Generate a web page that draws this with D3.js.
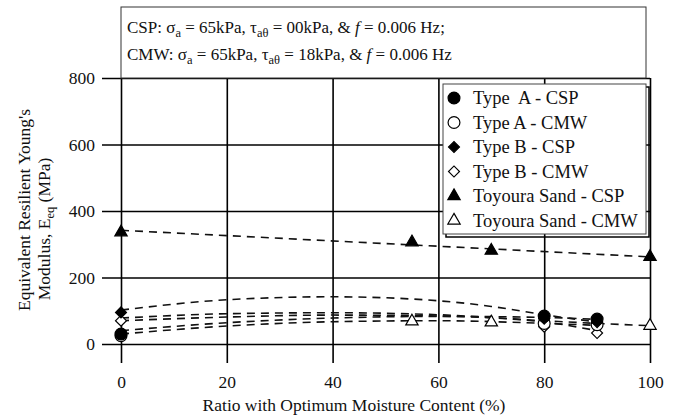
<!DOCTYPE html>
<html>
<head>
<meta charset="utf-8">
<script src="https://cdn.jsdelivr.net/npm/d3@7/dist/d3.min.js"></script>
<style>
  html, body { margin: 0; padding: 0; background: #fff; }
  svg text { font-family: "Liberation Serif", "Times New Roman", "DejaVu Serif", serif; }
</style>
</head>
<body>
<svg id="chart" width="683" height="419"></svg>
<script>
// Moisture ratio (% of optimum) and resilient modulus (MPa) per specimen/test
const xTicks = [0, 20, 40, 60, 80, 100];
const yTicks = [0, 200, 400, 600, 800];

const typeA_CSP_x = [0, 80, 90];
const typeA_CSP_y = [30, 84, 75];
const typeA_CMW_x = [0, 80, 90];
const typeA_CMW_y = [25, 62, 58];
const typeB_CSP_x = [0, 80, 90];
const typeB_CSP_y = [95, 76, 66];
const typeB_CMW_x = [0, 80, 90];
const typeB_CMW_y = [70, 52, 33];
const toyoura_CSP_x = [0, 55, 70, 100];
const toyoura_CSP_y = [336, 306, 281, 262];
const toyoura_CMW_x = [55, 70, 100];
const toyoura_CMW_y = [68, 65, 55];

// Trend curves (dashed), sampled along the moisture ratio
const trendToyouraCSP = [[0, 342], [100, 262]];
const trendTypeB_CSP = [[0, 102], [20, 133], [40, 142], [60, 130], [70, 113], [80, 88], [90, 66]];
const trendToyouraCMW = [[0, 78], [20, 91], [40, 94], [60, 88], [80, 70], [90, 62], [100, 55]];
const trendTypeB_CMW = [[0, 70], [20, 81], [40, 87], [60, 84], [80, 66], [90, 40]];
const trendTypeA_CSP = [[0, 40], [20, 64], [40, 78], [60, 83], [80, 80], [90, 74]];
const trendTypeA_CMW = [[0, 30], [20, 54], [40, 67], [60, 70], [80, 62], [90, 56]];

const legendLabels = [
  "Type  A - CSP", "Type A - CMW", "Type B - CSP",
  "Type B - CMW", "Toyoura Sand - CSP", "Toyoura Sand - CMW"
];

const FONT = "Liberation Serif, Times New Roman, DejaVu Serif, serif";
const svg = d3.select("#chart");
const x = d3.scaleLinear().domain([0, 100]).range([121, 650]);
const y = d3.scaleLinear().domain([0, 800]).range([344, 78]);
const gridLeft = 102, gridBottom = 363;

// Horizontal grid with y tick labels
const yAxis = svg.append("g")
  .attr("transform", `translate(${gridLeft},0)`)
  .call(d3.axisLeft(y).tickValues(yTicks).tickSize(-(x(100) - gridLeft)).tickPadding(7));
yAxis.attr("font-family", FONT);
yAxis.select(".domain").remove();
yAxis.selectAll("line").attr("stroke", "#000").attr("stroke-width", 1.6);
yAxis.selectAll("text").attr("font-size", 17.5).attr("fill", "#111").attr("font-family", FONT);

// Vertical grid with x tick labels
const xAxis = svg.append("g")
  .attr("transform", `translate(0,${gridBottom})`)
  .call(d3.axisBottom(x).tickValues(xTicks).tickSize(-(gridBottom - y(800))).tickPadding(13));
xAxis.attr("font-family", FONT);
xAxis.select(".domain").remove();
xAxis.selectAll("line").attr("stroke", "#000").attr("stroke-width", 1.6);
xAxis.selectAll("text").attr("font-size", 17.5).attr("fill", "#111").attr("font-family", FONT);

// Axis titles
svg.append("text")
  .attr("x", 354).attr("y", 411).attr("font-family", FONT)
  .attr("text-anchor", "middle").attr("font-size", 17.5).attr("fill", "#111")
  .text("Ratio with Optimum Moisture Content (%)");

svg.append("text")
  .attr("transform", "translate(30,210) rotate(-90)").attr("font-family", FONT)
  .attr("text-anchor", "middle").attr("font-size", 17.5).attr("fill", "#111")
  .text("Equivalent Resilient Young's");

const yt2 = svg.append("text")
  .attr("transform", "translate(50,229) rotate(-90)").attr("font-family", FONT)
  .attr("text-anchor", "middle").attr("font-size", 17.5).attr("fill", "#111");
yt2.append("tspan").text("Modulus, E");
yt2.append("tspan").attr("font-size", 12.5).attr("dy", 4).text("eq");
yt2.append("tspan").attr("dy", -4).text(" (MPa)");

// Condition box above the plot
svg.append("rect")
  .attr("x", 121).attr("y", 7).attr("width", 525).attr("height", 71)
  .attr("fill", "#fff").attr("stroke", "#333").attr("stroke-width", 1);

function conditionLine(yPos, label, tau) {
  const t = svg.append("text").attr("x", 127).attr("y", yPos).attr("font-family", FONT)
    .attr("font-size", 17).attr("fill", "#111");
  t.append("tspan").text(label + ": σ");
  t.append("tspan").attr("font-size", 12.5).attr("dy", 4).text("a");
  t.append("tspan").attr("dy", -4).text(" = 65kPa, τ");
  t.append("tspan").attr("font-size", 12.5).attr("dy", 4).text("aθ");
  t.append("tspan").attr("dy", -4).text(` = ${tau}kPa, & `);
  t.append("tspan").attr("font-style", "italic").text("f");
  t.append("tspan").text(label === "CSP" ? " = 0.006 Hz;" : " = 0.006 Hz");
}
conditionLine(33, "CSP", "00");
conditionLine(60, "CMW", "18");

// Dashed trend curves
const trendLine = d3.line()
  .x(d => x(d[0])).y(d => y(d[1]))
  .curve(d3.curveMonotoneX);
[trendToyouraCSP, trendTypeB_CSP, trendToyouraCMW, trendTypeB_CMW, trendTypeA_CSP, trendTypeA_CMW]
  .forEach(t => {
    svg.append("path").datum(t)
      .attr("d", trendLine)
      .attr("fill", "none").attr("stroke", "#111")
      .attr("stroke-width", 1.6).attr("stroke-dasharray", "8,6");
  });

// Marker shapes: circle, square diamond, triangle
const symCircle = d3.symbol().type(d3.symbolCircle).size(110);
const symSquare = d3.symbol().type(d3.symbolSquare).size(60);
const symTriangle = d3.symbol().type(d3.symbolTriangle).size(66);
const shapes = {
  circle: { gen: symCircle, rot: 0 },
  diamond: { gen: symSquare, rot: 45 },
  triangle: { gen: symTriangle, rot: 0 }
};

const series = [
  { xs: toyoura_CMW_x, ys: toyoura_CMW_y, shape: "triangle", filled: false },
  { xs: typeB_CMW_x, ys: typeB_CMW_y, shape: "diamond", filled: false },
  { xs: typeA_CMW_x, ys: typeA_CMW_y, shape: "circle", filled: false },
  { xs: typeB_CSP_x, ys: typeB_CSP_y, shape: "diamond", filled: true },
  { xs: typeA_CSP_x, ys: typeA_CSP_y, shape: "circle", filled: true },
  { xs: toyoura_CSP_x, ys: toyoura_CSP_y, shape: "triangle", filled: true }
];

series.forEach(s => {
  const sh = shapes[s.shape];
  svg.append("g").selectAll("path")
    .data(s.xs.map((v, i) => [v, s.ys[i]]))
    .join("path")
    .attr("transform", d => `translate(${x(d[0])},${y(d[1])}) rotate(${sh.rot})`)
    .attr("d", sh.gen())
    .attr("fill", s.filled ? "#000" : "#fff")
    .attr("stroke", "#000").attr("stroke-width", 1.2);
});

// Legend
const legendShapes = [
  ["circle", true], ["circle", false], ["diamond", true],
  ["diamond", false], ["triangle", true], ["triangle", false]
];
const lg = svg.append("g").attr("transform", "translate(443,84)");
lg.append("rect").attr("x", 3).attr("y", 3).attr("width", 203).attr("height", 150)
  .attr("fill", "none").attr("stroke", "#000").attr("stroke-width", 1.5);
lg.append("rect").attr("x", 0).attr("y", 0).attr("width", 203).attr("height", 150)
  .attr("fill", "#fff").attr("stroke", "#444").attr("stroke-width", 1);
legendLabels.forEach((lab, i) => {
  const cy = 14 + i * 24.5;
  const sh = shapes[legendShapes[i][0]];
  lg.append("path")
    .attr("transform", `translate(11,${cy}) rotate(${sh.rot})`)
    .attr("d", sh.gen())
    .attr("fill", legendShapes[i][1] ? "#000" : "#fff")
    .attr("stroke", "#000").attr("stroke-width", 1.2);
  lg.append("text").attr("x", 30).attr("y", cy + 6).attr("font-family", FONT)
    .attr("font-size", 18.5).attr("fill", "#111").attr("xml:space", "preserve").text(lab);
});
</script>
</body>
</html>
